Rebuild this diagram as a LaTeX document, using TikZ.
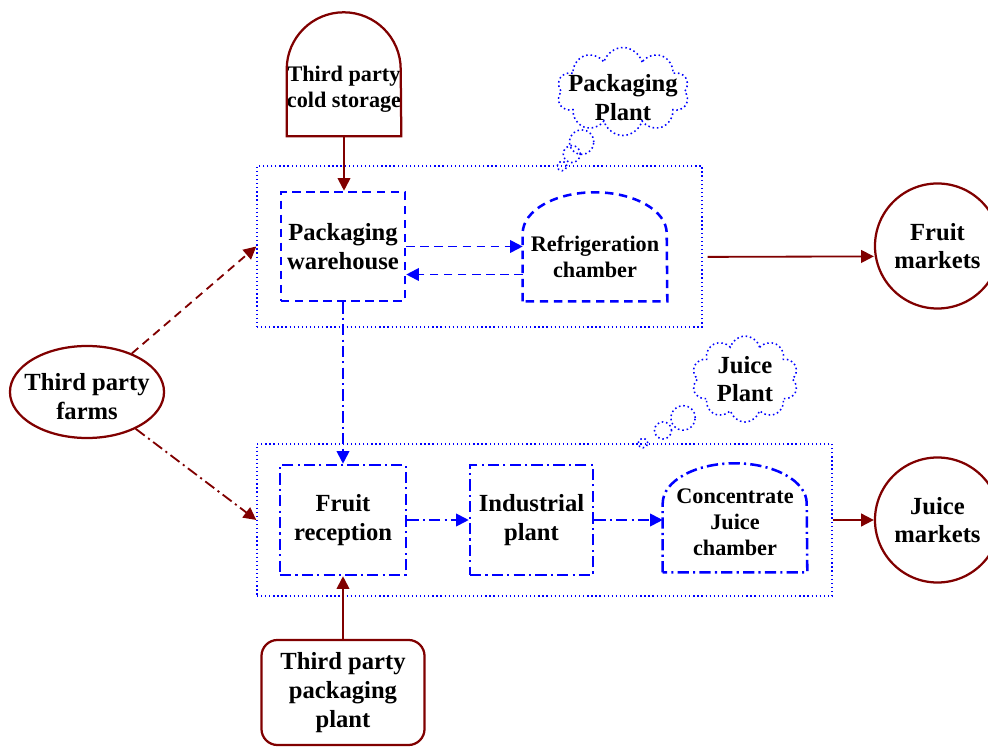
\documentclass[tikz,border=0pt]{standalone}
\usepackage{fontspec}
\setmainfont{Liberation Serif}
\usetikzlibrary{positioning,arrows.meta,shapes.geometric,shapes.callouts}
\definecolor{darkmaroon}{rgb}{0.5,0,0}
\newcommand{\bigtext}{\bfseries\fontsize{17.5}{20.5}\selectfont}
\newcommand{\smalltext}{\bfseries\fontsize{15.8}{18.5}\selectfont}

\begin{document}
\begin{tikzpicture}[x=0.025cm,y=0.025cm,
    every node/.style={align=center,inner sep=0pt,font=\bigtext},
    tip/.style={-{Triangle[length=9pt,width=9pt]}},
    redarrow/.style={tip,darkmaroon,line width=1.3pt},
    bluearrow/.style={tip,blue,line width=1.3pt},
    dashdot/.style={dash pattern=on 8pt off 3pt on 1.5pt off 3pt},
    longdash/.style={dash pattern=on 6pt off 4pt},
    plantbox/.style={draw=blue,line width=0.9pt,dotted},
    unitbox/.style={draw=blue,line width=1.8pt},
    redshape/.style={draw=darkmaroon,line width=1.6pt},
    thought/.style={cloud callout,draw=blue,line width=1.1pt,dotted,cloud ignores aspect,
      callout pointer segments=3,callout pointer end size=0.26cm and 0.24cm}]
  \useasboundingbox (0,0) rectangle (988,-747);

  % plants
  \node[plantbox,minimum width=11.125cm,minimum height=4.025cm] (pkgplant) at (479.5,-246.5) {};
  \node[plantbox,minimum width=14.375cm,minimum height=3.8cm] (juiceplant) at (544.5,-520) {};
  \node[thought,minimum width=3.3cm,minimum height=2.2cm,callout absolute pointer={(562,-166)},
    callout pointer start size=1.15cm and 0.8cm,
    label={[yshift=-0.15cm]center:Packaging\\Plant}] (pkgcloud) at (623,-91.5) {};
  \node[thought,minimum width=2.65cm,minimum height=2.15cm,callout absolute pointer={(643,-443)},
    callout pointer start size=0.92cm and 0.8cm,
    label={center:Juice\\Plant}] (juicecloud) at (745,-379) {};

  % packaging plant
  \node[unitbox,dash pattern=on 6pt off 4pt,minimum width=3.1cm,minimum height=2.725cm] (wh) at (343,-246.5) {Packaging\\warehouse};
  \node[minimum width=3.6cm,minimum height=2.725cm,
    label={[font=\smalltext,yshift=-0.25cm]center:Refrigeration\\chamber}] (refr) at (595,-246.5) {};
  \draw[unitbox,longdash] (refr.south west) -- ++(0,68) arc[start angle=180,end angle=0,x radius=72,y radius=41] -- (refr.south east) -- cycle;

  % juice plant
  \node[unitbox,dashdot,minimum width=3.15cm,minimum height=2.75cm] (recep) at (343,-520) {Fruit\\reception};
  \node[unitbox,dashdot,minimum width=3.075cm,minimum height=2.75cm] (ind) at (531.5,-520) {Industrial\\plant};
  \node[minimum width=3.6cm,minimum height=2.725cm,
    label={[font=\smalltext,yshift=-0.11cm]center:Concentrate\\Juice\\chamber}] (conc) at (735,-517.5) {};
  \draw[unitbox,dashdot] (conc.south west) -- ++(0,69) arc[start angle=180,end angle=0,x radius=72,y radius=40] -- (conc.south east) -- cycle;

  % third parties and markets
  \node[minimum width=2.85cm,minimum height=3.1cm,
    label={[font=\smalltext,yshift=-0.375cm]center:Third party\\cold storage}] (cold) at (344,-74) {};
  \draw[redshape] (cold.south west) -- ++(0,67) arc[start angle=180,end angle=0,radius=57] -- (cold.south east) -- cycle;
  \node[redshape,ellipse,minimum width=3.85cm,minimum height=2.3cm,
    label={[yshift=-0.11cm]center:Third party\\farms}] (farms) at (87,-392) {};
  \node[redshape,rounded corners=0.4cm,minimum width=4.075cm,minimum height=2.625cm] (tpp) at (343,-692.5) {Third party\\packaging\\plant};
  \node[redshape,circle,minimum size=3.125cm] (fruitmk) at (937.5,-246) {Fruit\\markets};
  \node[redshape,circle,minimum size=3.125cm] (juicemk) at (937.5,-520) {Juice\\markets};

  % flows
  \draw[redarrow] (cold.south) -- (cold.south |- wh.north);
  \draw[bluearrow,longdash] (wh.east) -- (wh.east -| refr.west);
  \draw[bluearrow,longdash] ([yshift=-0.7cm]refr.west) -- ([yshift=-0.7cm]wh.east);
  \draw[bluearrow,dashdot] (wh) -- (recep);
  \draw[bluearrow,dashdot] (recep) -- (ind);
  \draw[bluearrow,dashdot] (ind.east) -- (ind.east -| conc.west);
  \draw[redarrow] (tpp) -- (recep);
  \draw[redarrow,longdash] (farms) -- (pkgplant.west);
  \draw[redarrow,dashdot] (farms) -- (juiceplant.west);
  \draw[redarrow] ([xshift=0.125cm,yshift=-0.26cm]pkgplant.east) -- ([yshift=-0.26cm]fruitmk.west);
  \draw[redarrow] (juiceplant) -- (juicemk);
\end{tikzpicture}
\end{document}
